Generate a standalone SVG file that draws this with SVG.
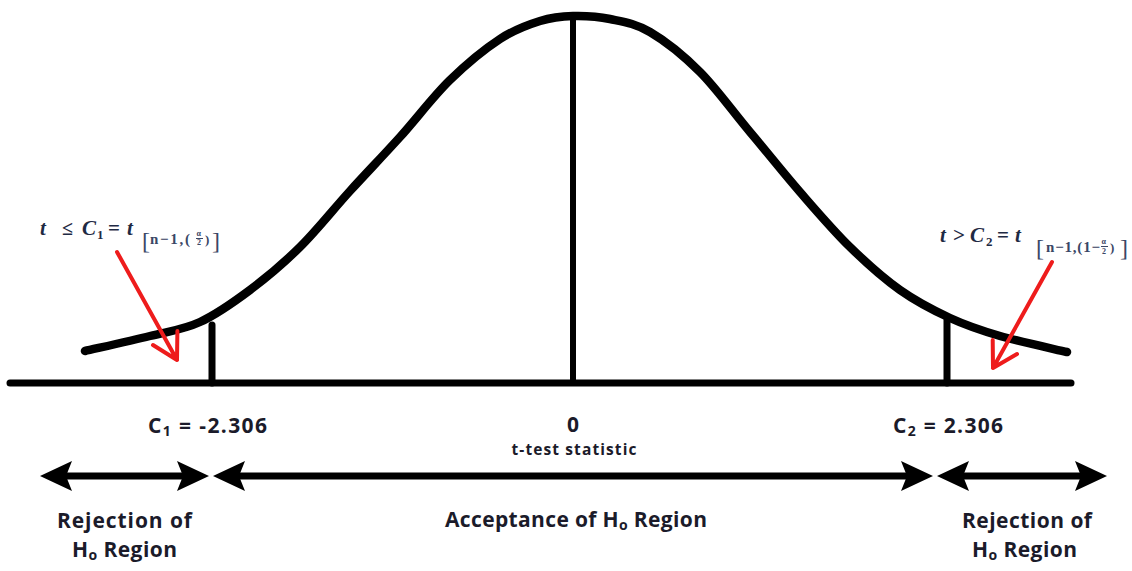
<svg xmlns="http://www.w3.org/2000/svg" width="1132" height="571" viewBox="0 0 1132 571">
<defs>
<style>
.blk{stroke:#000;fill:none;stroke-linecap:round;stroke-linejoin:round}
.red{stroke:#ee1c1c;stroke-width:4;fill:none;stroke-linecap:round;stroke-linejoin:round}
.lbl{font-family:"Open Sans","Liberation Sans",sans-serif;font-weight:700;fill:#1b1b2a}
.math{font-family:"Liberation Serif","DejaVu Serif",serif;font-weight:700;fill:#1f2a44}
.it{font-style:italic}
.sub{font-family:"Liberation Serif","DejaVu Serif",serif;fill:#3a4766}
.ah{fill:#000}
</style>
</defs>
<rect width="1132" height="571" fill="#fff"/>
<g id="curve">
<path class="blk" stroke-width="8.5" d="M85,351 C95.8,348.5 130.8,340.8 150,336 C169.2,331.2 183.3,329.7 200,322 C216.7,314.3 233.3,302.5 250,290 C266.7,277.5 283.3,263.5 300,247 C316.7,230.5 333.3,209.3 350,191 C366.7,172.7 383.3,155.5 400,137 C416.7,118.5 433.3,96.2 450,80 C466.7,63.8 485,48.8 500,39 C515,29.2 527.8,24.8 540,21 C552.2,17.2 561.3,16.3 573,16 C584.7,15.7 597.2,16.3 610,19 C622.8,21.7 635,23.2 650,32 C665,40.8 683.3,55.3 700,72 C716.7,88.7 733.3,112.3 750,132 C766.7,151.7 783.3,172.8 800,192 C816.7,211.2 833.3,230.7 850,247 C866.7,263.3 883.3,278.2 900,290 C916.7,301.8 933.3,310.3 950,318 C966.7,325.7 980.5,330.3 1000,336 C1019.5,341.7 1055.8,349.3 1067,352"/>
</g>
<g id="axis">
<line class="blk" stroke-width="7" x1="10" y1="383" x2="1071" y2="383" stroke-linecap="butt"/>
<line class="blk" stroke-width="6" x1="573" y1="15" x2="573" y2="383" stroke-linecap="butt"/>
<line class="blk" stroke-width="7" x1="212" y1="325" x2="212" y2="383" stroke-linecap="butt"/>
<line class="blk" stroke-width="7" x1="947" y1="320" x2="947" y2="383" stroke-linecap="butt"/>
</g>
<g id="connectors">
<path class="red" d="M117,252 L177,360 M153,345 L177,360 L177.4,331"/>
<path class="red" d="M1052,262 L993,368 M1017,354 L993,368 L992.7,340"/>
<line class="blk" stroke-width="7" x1="66" y1="476" x2="186" y2="476" stroke-linecap="butt"/>
<path class="ah" d="M40,476 L72,461 L66,476 L72,491 Z"/>
<path class="ah" d="M209,476 L177,461 L183,476 L177,491 Z"/>
<line class="blk" stroke-width="7" x1="238" y1="476" x2="910" y2="476" stroke-linecap="butt"/>
<path class="ah" d="M213,476 L245,461 L239,476 L245,491 Z"/>
<path class="ah" d="M933,476 L901,461 L907,476 L901,491 Z"/>
<line class="blk" stroke-width="7" x1="962" y1="476" x2="1084" y2="476" stroke-linecap="butt"/>
<path class="ah" d="M937,476 L969,461 L963,476 L969,491 Z"/>
<path class="ah" d="M1107,476 L1075,461 L1081,476 L1075,491 Z"/>
</g>
<g id="label-c1-condition">
<text class="math it" x="40" y="235" font-size="21">t</text>
<text class="math" x="62" y="235" font-size="20">≤</text>
<text class="math it" x="82" y="235" font-size="21">C</text>
<text class="math" x="97" y="239" font-size="13">1</text>
<text class="math" x="108" y="235" font-size="21">=</text>
<text class="math it" x="127" y="235" font-size="21">t</text>
<text class="sub" x="142" y="249" font-size="24" font-weight="400">[</text>
<text class="sub" x="150" y="244" font-size="15" font-weight="700" textLength="40">n−1,(</text>
<text class="sub" x="196.5" y="236" font-size="8" font-weight="700">α</text>
<line x1="196" y1="238.5" x2="203" y2="238.5" stroke="#3a4766" stroke-width="1"/>
<text class="sub" x="197" y="245" font-size="8" font-weight="700">2</text>
<text class="sub" x="205" y="244" font-size="13" font-weight="700">)</text>
<text class="sub" x="212" y="249" font-size="24" font-weight="400">]</text>
</g>
<g id="label-c2-condition">
<text class="math it" x="940" y="242" font-size="21">t</text>
<text class="math" x="953" y="242" font-size="21">&gt;</text>
<text class="math it" x="970" y="242" font-size="21">C</text>
<text class="math" x="986" y="246" font-size="13">2</text>
<text class="math" x="997" y="242" font-size="21">=</text>
<text class="math it" x="1015" y="242" font-size="21">t</text>
<text class="sub" x="1036" y="256" font-size="24" font-weight="400">[</text>
<text class="sub" x="1046" y="252" font-size="15" font-weight="700" textLength="54">n−1,(1−</text>
<text class="sub" x="1101.5" y="244" font-size="8" font-weight="700">α</text>
<line x1="1101" y1="246.5" x2="1108" y2="246.5" stroke="#3a4766" stroke-width="1"/>
<text class="sub" x="1102" y="254" font-size="8" font-weight="700">2</text>
<text class="sub" x="1110" y="252" font-size="13" font-weight="700">)</text>
<text class="sub" x="1120" y="256" font-size="24" font-weight="400">]</text>
</g>
<g id="label-c1">
<text class="lbl" x="148" y="433" font-size="21" textLength="119">C<tspan font-size="14" dy="3">1</tspan><tspan dy="-3"> = -2.306</tspan></text>
</g>
<g id="label-zero">
<text class="lbl" x="573" y="432" font-size="21" text-anchor="middle">0</text>
<text class="lbl" x="574" y="455" font-size="15.5" text-anchor="middle" textLength="125">t-test statistic</text>
</g>
<g id="label-c2">
<text class="lbl" x="893" y="433" font-size="21" textLength="110">C<tspan font-size="14" dy="3">2</tspan><tspan dy="-3"> = 2.306</tspan></text>
</g>
<g id="label-reject-left">
<text class="lbl" x="124.5" y="528" font-size="21" text-anchor="middle" textLength="135">Rejection of</text>
<text class="lbl" x="124.5" y="557" font-size="21" text-anchor="middle" textLength="105">H<tspan font-size="14" dy="3">o</tspan><tspan dy="-3"> Region</tspan></text>
</g>
<g id="label-accept">
<text class="lbl" x="576" y="527" font-size="21" text-anchor="middle" textLength="262">Acceptance  of H<tspan font-size="14" dy="3">o</tspan><tspan dy="-3"> Region</tspan></text>
</g>
<g id="label-reject-right">
<text class="lbl" x="1027" y="528" font-size="21" text-anchor="middle" textLength="130">Rejection of</text>
<text class="lbl" x="1024.5" y="557" font-size="21" text-anchor="middle" textLength="105">H<tspan font-size="14" dy="3">o</tspan><tspan dy="-3"> Region</tspan></text>
</g>
</svg>
